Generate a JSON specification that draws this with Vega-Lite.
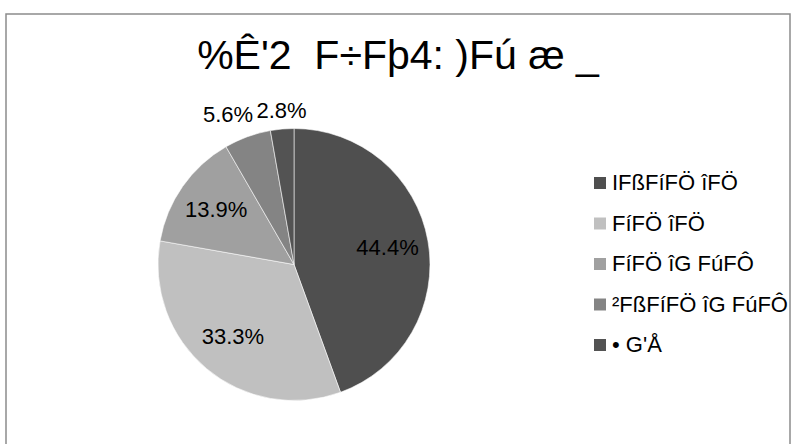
{
  "$schema": "https://vega.github.io/schema/vega-lite/v6.json",
  "width": 784,
  "height": 431,
  "autosize": "none",
  "padding": {"left": 6, "top": 14, "right": 2, "bottom": 0},
  "background": "white",
  "view": {"stroke": "#8c8c8c", "strokeWidth": 1.5},
  "title": {
    "text": "%Ê'2\u00a0\u00a0F÷Fþ4: )Fú æ _",
    "font": "Liberation Sans",
    "fontSize": 41,
    "fontWeight": "normal",
    "color": "#000000",
    "anchor": "middle",
    "frame": "group",
    "orient": "top",
    "offset": 0,
    "baseline": "alphabetic",
    "dy": 96
  },
  "data": {
    "values": [
      {"category": "\u00a0IFßFíFÖ îFÖ", "count": 16, "label": "44.4%", "order": 1},
      {"category": "FíFÖ îFÖ", "count": 12, "label": "33.3%", "order": 2},
      {"category": "FíFÖ îG FúFÔ", "count": 5, "label": "13.9%", "order": 3},
      {"category": "\u00a0²FßFíFÖ îG FúFÔ", "count": 2, "label": "5.6%", "order": 4},
      {"category": "\u00a0• G'Å", "count": 1, "label": "2.8%", "order": 5}
    ]
  },
  "encoding": {
    "theta": {"field": "count", "type": "quantitative", "stack": true},
    "order": {"field": "order", "type": "quantitative"}
  },
  "layer": [
    {
      "mark": {"type": "arc", "outerRadius": 136, "x": 288, "y": 250.5, "stroke": "#ffffff", "strokeWidth": 0.8, "strokeOpacity": 0.7},
      "encoding": {
        "color": {
          "field": "category",
          "type": "nominal",
          "scale": {
            "domain": ["\u00a0IFßFíFÖ îFÖ", "FíFÖ îFÖ", "FíFÖ îG FúFÔ", "\u00a0²FßFíFÖ îG FúFÔ", "\u00a0• G'Å"],
            "range": ["#4f4f4f", "#c0c0c0", "#a0a0a0", "#848484", "#535353"]
          },
          "legend": {
            "orient": "none",
            "legendX": 583,
            "legendY": 158,
            "title": null,
            "symbolType": "square",
            "symbolSize": 144,
            "symbolStrokeWidth": 0,
            "labelFont": "Liberation Sans",
            "labelFontSize": 22,
            "labelColor": "#000000",
            "labelLimit": 0,
            "rowPadding": 18.5,
            "labelOffset": 1,
            "padding": 0
          }
        }
      }
    },
    {
      "mark": {"type": "text", "radius": 95, "x": 288, "y": 250.5, "font": "Liberation Sans", "fontSize": 22, "color": "#000000"},
      "encoding": {
        "detail": {"field": "category", "type": "nominal"},
        "text": {"condition": {"test": "datum.order <= 3", "field": "label", "type": "nominal"}, "value": ""}
      }
    },
    {
      "mark": {"type": "text", "radius": 155, "dx": -13, "dy": -4, "x": 288, "y": 250.5, "font": "Liberation Sans", "fontSize": 22, "color": "#000000"},
      "encoding": {
        "detail": {"field": "category", "type": "nominal"},
        "text": {"condition": {"test": "datum.order == 4", "field": "label", "type": "nominal"}, "value": ""}
      }
    },
    {
      "mark": {"type": "text", "radius": 155, "dx": 1, "dy": 1, "x": 288, "y": 250.5, "font": "Liberation Sans", "fontSize": 22, "color": "#000000"},
      "encoding": {
        "detail": {"field": "category", "type": "nominal"},
        "text": {"condition": {"test": "datum.order == 5", "field": "label", "type": "nominal"}, "value": ""}
      }
    }
  ]
}
